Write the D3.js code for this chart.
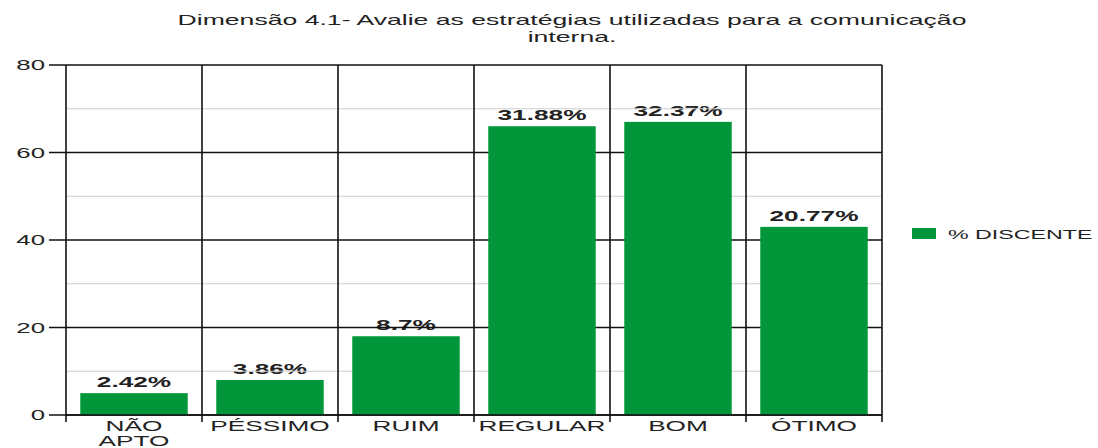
<!DOCTYPE html>
<html>
<head>
<meta charset="utf-8">
<script src="https://cdn.jsdelivr.net/npm/d3@7/dist/d3.min.js"></script>
<style>
  html, body { margin: 0; padding: 0; background: #fff; }
  svg { display: block; font-family: "Liberation Sans", Arial, sans-serif; }
</style>
</head>
<body>
<svg id="chart" width="1098" height="448"></svg>
<script>
// Chart data
const titleLines = ["Dimensão 4.1- Avalie as estratégias utilizadas para a comunicação", "interna."];
const categories = ["NÃO APTO", "PÉSSIMO", "RUIM", "REGULAR", "BOM", "ÓTIMO"];
const counts = [5, 8, 18, 66, 67, 43];
const seriesName = "% DISCENTE";
const majorTicks = [0, 20, 40, 60, 80];
const minorTicks = [10, 30, 50, 70];

const total = d3.sum(counts);
const pctLabel = v => (+(v / total * 100).toFixed(2)) + "%";

const W = 1098, H = 448;
const margin = { left: 66, right: 216, top: 65, bottom: 33 };
const green = "#009639";
const SX = 1.72; // horizontal text stretch

const svg = d3.select("#chart");

const x = d3.scaleBand()
  .domain(categories)
  .range([margin.left, W - margin.right])
  .paddingInner(0.21)
  .paddingOuter(0.105);

const y = d3.scaleLinear()
  .domain([0, 80])
  .range([H - margin.bottom, margin.top]);

const step = x.step();
const x0 = x.range()[0], x1 = x.range()[1];

// stretched text helper
function stretched(g, px, py, sx) {
  return g.append("text").attr("transform", `translate(${px},${py}) scale(${sx},1)`);
}

// Title
titleLines.forEach((t, i) => {
  stretched(svg, 572, 25 + i * 17, 1.9)
    .attr("text-anchor", "middle")
    .attr("font-size", 14)
    .attr("fill", "#222")
    .text(t);
});

// Value labels (beneath the grid)
const labels = svg.append("g");
categories.forEach((c, i) => {
  stretched(labels, x(c) + x.bandwidth() / 2, y(counts[i]) - 6, 1.75)
    .attr("text-anchor", "middle")
    .attr("font-size", 15)
    .attr("font-weight", "bold")
    .attr("fill", "#222")
    .text(pctLabel(counts[i]));
});

// Grid
const grid = svg.append("g");
grid.selectAll("line.minor").data(minorTicks).join("line")
  .attr("class", "minor")
  .attr("x1", x0).attr("x2", x1)
  .attr("y1", d => y(d)).attr("y2", d => y(d))
  .attr("stroke", "#cccccc").attr("stroke-width", 1.2);
grid.selectAll("line.major").data(majorTicks).join("line")
  .attr("class", "major")
  .attr("x1", x0 - 17).attr("x2", x1)
  .attr("y1", d => y(d)).attr("y2", d => y(d))
  .attr("stroke", "#111").attr("stroke-width", 1.5);
const bounds = d3.range(categories.length + 1).map(i => x0 + i * step);
grid.selectAll("line.v").data(bounds).join("line")
  .attr("class", "v")
  .attr("x1", d => d).attr("x2", d => d)
  .attr("y1", y(80)).attr("y2", y(0) + 7)
  .attr("stroke", "#111").attr("stroke-width", 1.6);

// Bars
svg.append("g").selectAll("rect").data(categories).join("rect")
  .attr("x", d => x(d))
  .attr("width", x.bandwidth())
  .attr("y", (d, i) => y(counts[i]))
  .attr("height", (d, i) => y(0) - y(counts[i]))
  .attr("fill", green);

// Axis line redrawn on top
svg.append("line")
  .attr("x1", x0).attr("x2", x1)
  .attr("y1", y(0)).attr("y2", y(0))
  .attr("stroke", "#111").attr("stroke-width", 1.5);

// Y tick labels
majorTicks.forEach(t => {
  stretched(svg, 45, y(t) + 5, SX)
    .attr("text-anchor", "end")
    .attr("font-size", 15)
    .attr("fill", "#222")
    .text(t);
});

// Category labels
categories.forEach(c => {
  const words = c.split(" ");
  words.forEach((w, j) => {
    stretched(svg, x(c) + x.bandwidth() / 2, 431 + j * 15, 1.75)
      .attr("text-anchor", "middle")
      .attr("font-size", 15)
      .attr("fill", "#222")
      .text(w);
  });
});

// Legend
const lg = svg.append("g");
lg.append("rect").attr("x", 912).attr("y", 228).attr("width", 24).attr("height", 11).attr("fill", green);
stretched(lg, 948, 239, 1.72)
  .attr("font-size", 13.5)
  .attr("fill", "#222")
  .text(seriesName);
</script>
</body>
</html>
